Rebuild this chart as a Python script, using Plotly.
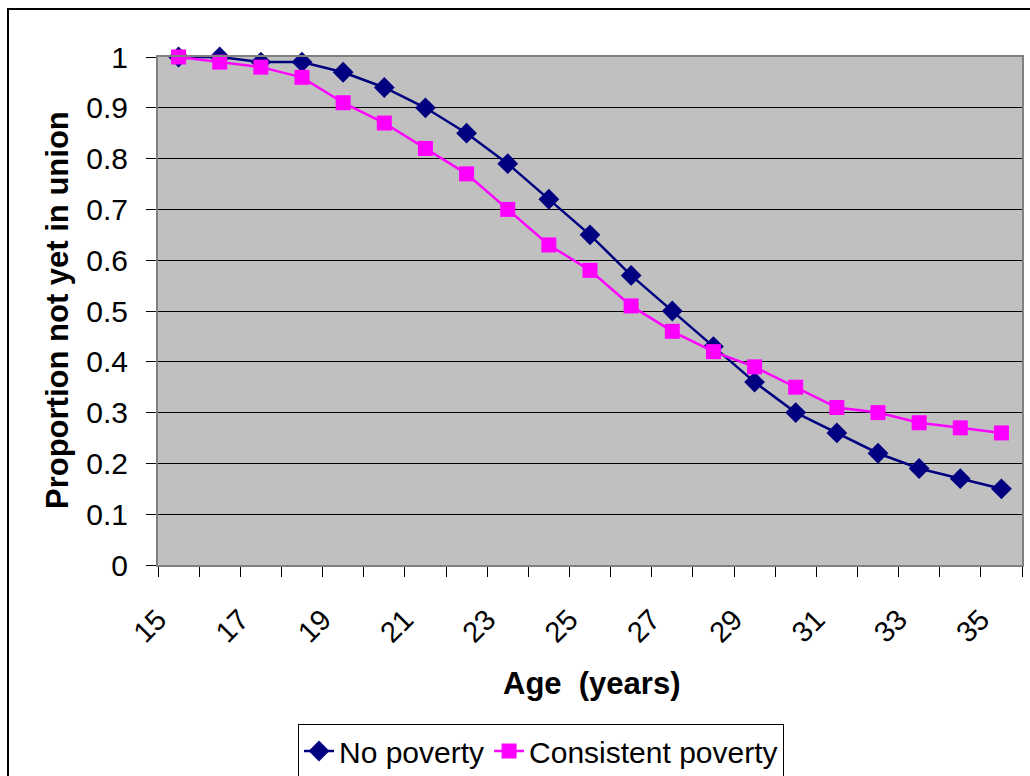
import plotly.graph_objects as go

ages = list(range(15, 36))
age_centers = [a + 0.5 for a in ages]
no_poverty = [1.00, 1.00, 0.99, 0.99, 0.97, 0.94, 0.90, 0.85, 0.79, 0.72, 0.65,
              0.57, 0.50, 0.43, 0.36, 0.30, 0.26, 0.22, 0.19, 0.17, 0.15]
consistent_poverty = [1.00, 0.99, 0.98, 0.96, 0.91, 0.87, 0.82, 0.77, 0.70, 0.63, 0.58,
                      0.51, 0.46, 0.42, 0.39, 0.35, 0.31, 0.30, 0.28, 0.27, 0.26]
x_tick_labels = [str(a) for a in range(15, 36, 2)]
y_ticks = [round(i * 0.1, 1) for i in range(11)]
y_tick_labels = ["0", "0.1", "0.2", "0.3", "0.4", "0.5", "0.6", "0.7", "0.8", "0.9", "1"]

FONT = "Liberation Sans, Arial, sans-serif"

fig = go.Figure()
fig.add_trace(go.Scatter(
    x=age_centers, y=no_poverty, name="No poverty", mode="lines+markers",
    line=dict(color="#000080", width=2.5),
    marker=dict(symbol="diamond", size=16, color="#000080"),
    cliponaxis=False,
))
fig.add_trace(go.Scatter(
    x=age_centers, y=consistent_poverty, name="Consistent poverty", mode="lines+markers",
    line=dict(color="#FF00FF", width=2.5),
    marker=dict(symbol="square", size=15, color="#FF00FF"),
    cliponaxis=False,
))

W, H = 1030, 776
L, R, T, B = 158, 8, 57, 211
pw, ph = W - L - R, H - T - B

fig.update_layout(
    width=W, height=H,
    margin=dict(l=L, r=R, t=T, b=B, autoexpand=False),
    paper_bgcolor="white",
    plot_bgcolor="#C0C0C0",
    font=dict(family=FONT, color="black", size=28),
    showlegend=True,
    legend=dict(
        orientation="h", x=(541 - L) / pw, xanchor="center",
        y=(H - B - 751) / ph, yanchor="middle",
        bordercolor="black", borderwidth=1, bgcolor="white",
        font=dict(size=30, family=FONT),
        itemwidth=30, tracegroupgap=0,
    ),
    xaxis=dict(
        range=[15, 36], tickmode="array",
        tickvals=[int(v) for v in x_tick_labels], ticktext=x_tick_labels,
        tickangle=-45, tickfont=dict(size=29),
        showgrid=False, zeroline=False, automargin=False,
        ticks="outside", ticklen=10, tickcolor="black", ticklabelstandoff=14,
        minor=dict(dtick=1, tick0=15, ticks="outside", ticklen=10, tickcolor="black", showgrid=False),
        showline=True, linecolor="#808080", linewidth=2, mirror=True,
    ),
    yaxis=dict(
        range=[0, 1], tickmode="array", tickvals=y_ticks, ticktext=y_tick_labels,
        tickfont=dict(size=30), automargin=False,
        showgrid=True, gridcolor="black", gridwidth=1, zeroline=False,
        ticks="outside", ticklen=10, tickcolor="black", ticklabelstandoff=12,
        showline=True, linecolor="#808080", linewidth=2, mirror=True,
    ),
)

# axis titles
fig.add_annotation(text="<b>Age  (years)</b>", xref="paper", yref="paper",
                   x=(591 - L) / pw, y=(H - B - 683) / ph, xanchor="center", yanchor="middle",
                   showarrow=False, font=dict(size=31, family=FONT))
fig.add_annotation(text="<b>Proportion not yet in union</b>", xref="paper", yref="paper",
                   x=(57 - L) / pw, y=(H - B - 310) / ph, xanchor="center", yanchor="middle",
                   textangle=-90, showarrow=False, font=dict(size=31, family=FONT))

# outer chart border (Excel chart area)
fig.add_shape(type="rect", xref="paper", yref="paper",
              x0=(8 - L) / pw, x1=(1040 - L) / pw,
              y0=(H - B - 790) / ph, y1=1 + (T - 9) / ph,
              line=dict(color="black", width=2), fillcolor="rgba(0,0,0,0)", layer="below")

fig.write_html("out.html")
